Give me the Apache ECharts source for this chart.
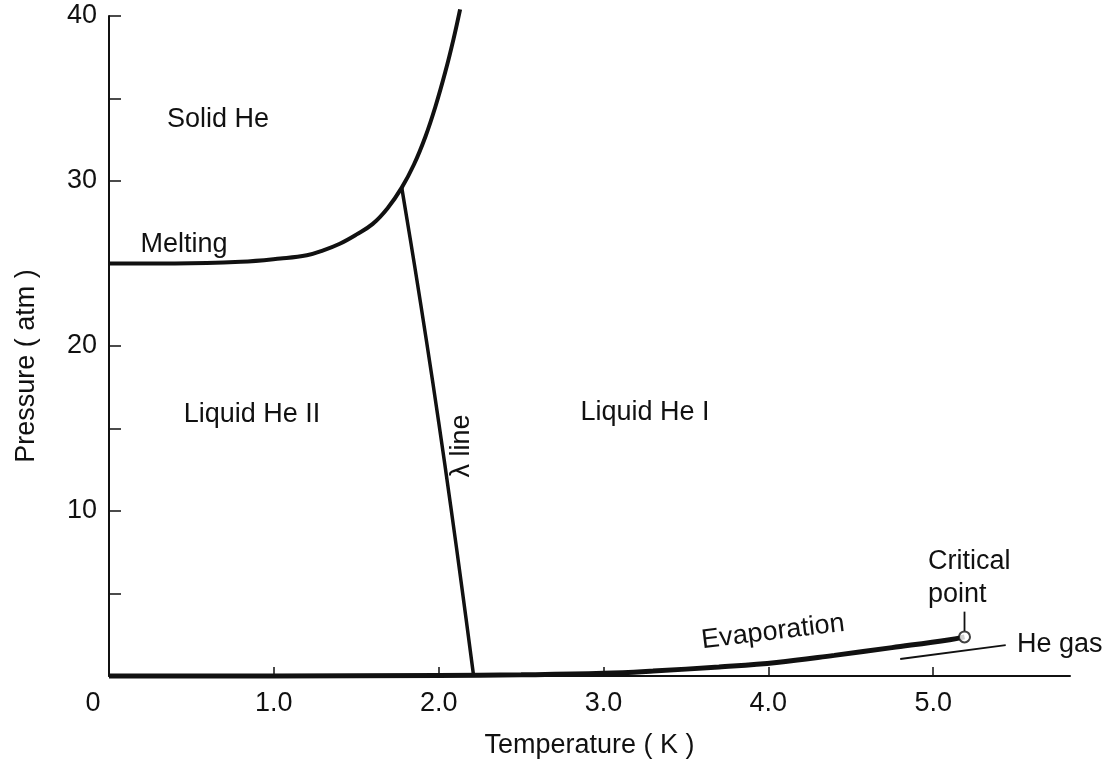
<!DOCTYPE html>
<html>
<head>
<meta charset="utf-8">
<script src="https://cdn.jsdelivr.net/npm/echarts@6/dist/echarts.min.js"></script>
<style>
html,body{margin:0;padding:0;background:#fff;}
#chart{width:1111px;height:764px;}
</style>
</head>
<body>
<div id="chart"></div>
<script>
// ---- data ----
const xLabelValues = [0, 1, 2, 3, 4, 5];
const xTickValues = [1, 2, 3, 4, 5];
const yLabelValues = [10, 20, 30, 40];
const yTickValues = [5, 10, 15, 20, 25, 30, 35, 40];

// melting curve (solid / liquid boundary), T in K, P in atm
const meltingCurve = [
  [0, 25.0], [0.4, 25.0], [0.8, 25.1], [1.04, 25.3], [1.2, 25.5],
  [1.3, 25.8], [1.4, 26.2], [1.5, 26.75], [1.6, 27.4], [1.69, 28.35],
  [1.776, 29.6], [1.85, 31.0], [1.92, 32.7], [1.98, 34.5],
  [2.04, 36.6], [2.09, 38.6], [2.13, 40.4]
];
// lambda line (He I / He II boundary)
const lambdaLine = [
  [1.776, 29.6], [1.855, 24.8], [1.926, 20.3], [2.0, 15.4],
  [2.073, 10.3], [2.143, 5.2], [2.212, 0]
];
// evaporation (vapour pressure) curve
const evaporationCurve = [
  [0, 0], [1.0, 0], [2.0, 0.03], [2.5, 0.07], [3.0, 0.16], [3.3, 0.3],
  [3.7, 0.55], [4.05, 0.82], [4.4, 1.25], [4.75, 1.72], [5.1, 2.2], [5.19, 2.37]
];
const criticalPoint = [[5.19, 2.37]];
const criticalPointer = [[5.19, 2.72], [5.19, 3.9]];
const gasPointer = [[4.80, 1.03], [5.44, 1.87]];

const FONT = "'Liberation Sans', Arial, sans-serif";
const FS = 27;
const INK = '#111';

const chart = echarts.init(document.getElementById('chart'), null, {renderer: 'canvas'});

function txt(text, x, y, opts) {
  opts = opts || {};
  return {
    type: 'text', x: x, y: y, rotation: opts.rotation || 0, z: 100,
    style: {
      text: text, fill: INK, font: FS + 'px ' + FONT,
      align: opts.align || 'center', verticalAlign: 'middle'
    }
  };
}

const option = {
  backgroundColor: '#fff',
  animation: false,
  grid: {left: 109, right: 41, top: 16, bottom: 85, containLabel: false},
  xAxis: {
    type: 'value', min: 0, max: 5.83,
    name: 'Temperature ( K )', nameLocation: 'middle', nameGap: 56,
    nameTextStyle: {color: INK, fontSize: FS, fontFamily: FONT},
    axisLine: {show: true, onZero: false, lineStyle: {color: INK, width: 2}},
    axisTick: {show: true, inside: true, length: 9, customValues: xTickValues,
               lineStyle: {color: INK, width: 1.5}},
    axisLabel: {
      customValues: xLabelValues, margin: 14, color: INK, fontSize: FS, fontFamily: FONT,
      formatter: function (v) { return v === 0 ? '{z|0}' : v.toFixed(1); },
      rich: {z: {fontSize: FS, fontFamily: FONT, color: INK, padding: [0, 32, 0, 0]}}
    },
    splitLine: {show: false}
  },
  yAxis: {
    type: 'value', min: 0, max: 40,
    axisLine: {show: true, onZero: false, lineStyle: {color: INK, width: 2}},
    axisTick: {show: true, inside: true, length: 12, customValues: yTickValues,
               lineStyle: {color: INK, width: 1.5}},
    axisLabel: {customValues: yLabelValues, margin: 12, color: INK, fontSize: FS, fontFamily: FONT},
    splitLine: {show: false}
  },
  graphic: [
    txt('Pressure ( atm )', 27, 366, {rotation: Math.PI / 2}),
    txt('Solid He', 218, 120),
    txt('Melting', 184, 245),
    txt('Liquid He II', 252, 415),
    txt('Liquid He I', 645, 413),
    txt('λ line', 462, 446, {rotation: Math.PI / 2}),
    txt('Evaporation', 773, 632, {rotation: 7 * Math.PI / 180}),
    txt('Critical', 928, 562, {align: 'left'}),
    txt('point', 928, 595, {align: 'left'}),
    txt('He gas', 1017, 645, {align: 'left'})
  ],
  series: [
    {
      name: 'Melting', type: 'line', data: meltingCurve, smooth: 0.4,
      showSymbol: false, clip: false,
      lineStyle: {color: INK, width: 4}
    },
    {
      name: 'Lambda line', type: 'line', data: lambdaLine, smooth: 0.4,
      showSymbol: false, lineStyle: {color: INK, width: 3.5}
    },
    {
      name: 'Evaporation', type: 'line', data: evaporationCurve, smooth: 0.4,
      showSymbol: false, clip: false, lineStyle: {color: INK, width: 5}
    },
    {
      name: 'Critical pointer', type: 'line', data: criticalPointer,
      showSymbol: false, lineStyle: {color: INK, width: 1.8}
    },
    {
      name: 'Gas pointer', type: 'line', data: gasPointer,
      showSymbol: false, lineStyle: {color: INK, width: 1.8}
    },
    {
      name: 'Critical point', type: 'scatter', data: criticalPoint, z: 10,
      symbol: 'circle', symbolSize: 11,
      itemStyle: {color: '#fff', borderColor: INK, borderWidth: 2}
    }
  ]
};
chart.setOption(option);
</script>
</body>
</html>
